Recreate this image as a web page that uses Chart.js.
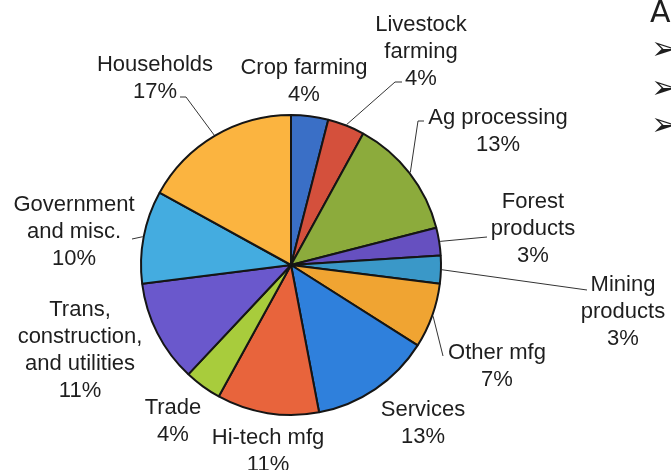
<!doctype html>
<html lang="en">
  <head>
    <meta charset="utf-8">
    <title>Sector shares</title>
    <script src="https://cdn.jsdelivr.net/npm/chart.js"></script>
    <style>
      html, body { margin: 0; padding: 0; background: #ffffff; }
      #wrap { width: 671px; height: 470px; }
    </style>
  </head>
  <body>
    <div id="wrap"><canvas id="pieChart" width="671" height="470"></canvas></div>

    <script>
      // Sectors, clockwise from 12 o'clock
      const sectors = [
        ['Crop farming'],
        ['Livestock', 'farming'],
        ['Ag processing'],
        ['Forest', 'products'],
        ['Mining', 'products'],
        ['Other mfg'],
        ['Services'],
        ['Hi-tech mfg'],
        ['Trade'],
        ['Trans,', 'construction,', 'and utilities'],
        ['Government', 'and misc.'],
        ['Households']
      ];
      const shares = [4, 4, 13, 3, 3, 7, 13, 11, 4, 11, 10, 17];
      const sliceColors = [
        '#3a6fc6', '#d4503c', '#8cab3c', '#6650c0', '#3a98c8', '#f0a432',
        '#2f80dc', '#e8643c', '#a8cc3c', '#6a58cc', '#44ace0', '#fbb440'
      ];

      // where each label sits (centre of its first line) and its leader line
      const labelAnchors = [
        [304, 68], [421, 25], [498, 118], [533, 202], [623, 285], [497, 353],
        [423, 410], [268, 438], [173, 408], [80, 310], [74, 205], [155, 65]
      ];
      const leaderPaths = [
        null,
        [[395, 82], [402, 82]],
        [[418, 121], [424, 121]],
        [[487, 237]],
        [[587, 290]],
        [[443, 356]],
        null, null, null, null,
        [[132, 239]],
        [[186, 97], [180, 97]]
      ];
      // cut-off slide text at the right edge
      const slideBullets = [['A', 650, 14, 30], ['\u27A2', 651, 51, 32], ['\u27A2', 651, 90, 32], ['\u27A2', 651, 127, 32]];

      const fontFamily = '"Liberation Sans", Arial, sans-serif';
      const lineGap = 27;

      const labelPlugin = {
        id: 'sectorLabels',
        afterDraw(chart) {
          const ctx = chart.ctx;
          const arcs = chart.getDatasetMeta(0).data;
          ctx.save();

          // leader lines
          ctx.strokeStyle = '#333333';
          ctx.lineWidth = 1;
          arcs.forEach((arc, i) => {
            const path = leaderPaths[i];
            if (!path) return;
            const mid = (arc.startAngle + arc.endAngle) / 2;
            const r = arc.outerRadius + 1;
            ctx.beginPath();
            ctx.moveTo(arc.x + Math.cos(mid) * r, arc.y + Math.sin(mid) * r);
            path.forEach(p => ctx.lineTo(p[0], p[1]));
            ctx.stroke();
          });

          // label text
          ctx.fillStyle = '#1e1e1e';
          ctx.font = '22px ' + fontFamily;
          ctx.textAlign = 'center';
          ctx.textBaseline = 'middle';
          sectors.forEach((lines, i) => {
            const [x, y] = labelAnchors[i];
            const all = lines.concat([shares[i] + '%']);
            all.forEach((t, k) => ctx.fillText(t, x, y + k * lineGap));
          });

          ctx.textAlign = 'left';
          slideBullets.forEach(([t, x, y, size]) => {
            ctx.font = size + 'px "DejaVu Sans", ' + fontFamily;
            ctx.fillText(t, x, y);
          });
          ctx.restore();
        }
      };

      const pieChart = new Chart(document.getElementById('pieChart'), {
        type: 'pie',
        data: {
          labels: sectors.map(s => s.join(' ')),
          datasets: [{
            data: shares,
            backgroundColor: sliceColors,
            borderColor: '#151515',
            borderWidth: 2,
            hoverOffset: 0
          }]
        },
        options: {
          responsive: false,
          animation: false,
          layout: { padding: { left: 140, right: 229, top: 114, bottom: 54 } },
          plugins: {
            legend: { display: false },
            tooltip: { enabled: false }
          }
        },
        plugins: [labelPlugin]
      });
    </script>
  </body>
</html>
